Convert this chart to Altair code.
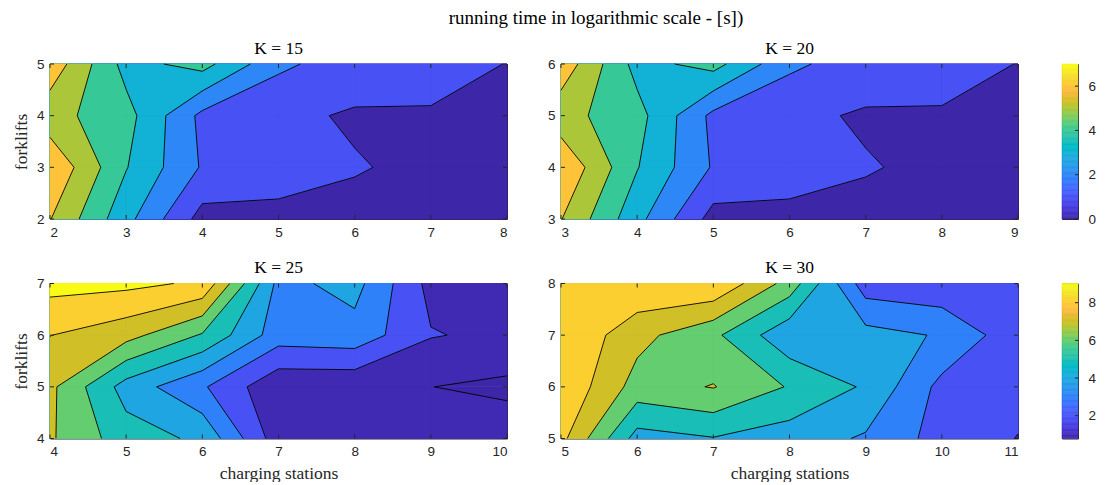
import altair as alt
import pandas as pd

# ---------------------------------------------------------------------------
# log running time [s] on the (forklifts x charging stations) grid, one per K
# rows = forklifts (bottom to top), columns = charging stations (left to right)
# ---------------------------------------------------------------------------
STATIONS_K15 = [2, 3, 4, 5, 6, 7, 8]
FORKLIFTS_K15 = [2, 3, 4, 5]
LOGTIME_K15 = [
    [6.04, 3.32, 0.62, 0.81, 0.74, 0.35, 0.00],
    [6.90, 4.05, 1.90, 1.30, 1.06, 0.81, 0.40],
    [5.35, 4.37, 1.74, 1.20, 0.90, 0.88, 0.60],
    [6.67, 3.64, 4.37, 2.20, 1.50, 1.50, 0.97],
]

STATIONS_K20 = [3, 4, 5, 6, 7, 8, 9]
FORKLIFTS_K20 = [3, 4, 5, 6]
LOGTIME_K20 = [
    [6.04, 3.32, 0.62, 0.81, 0.74, 0.35, 0.00],
    [6.90, 4.05, 1.90, 1.30, 1.06, 0.81, 0.40],
    [5.35, 4.37, 1.74, 1.20, 0.90, 0.88, 0.60],
    [6.67, 3.64, 4.37, 2.20, 1.50, 1.50, 0.97],
]

STATIONS_K25 = [4, 5, 6, 7, 8, 9, 10]
FORKLIFTS_K25 = [4, 5, 6, 7]
LOGTIME_K25 = [
    [7.13, 5.46, 4.81, 1.44, 1.30, 1.35, 1.57],
    [7.24, 4.58, 3.13, 1.21, 1.19, 1.01, 0.79],
    [8.02, 7.36, 5.90, 3.48, 3.63, 2.06, 1.78],
    [9.35, 9.25, 8.85, 3.70, 4.35, 1.68, 1.50],
]

STATIONS_K30 = [5, 6, 7, 8, 9, 10, 11]
FORKLIFTS_K30 = [5, 6, 7, 8]
LOGTIME_K30 = [
    [8.30, 4.60, 4.95, 4.50, 3.88, 2.60, 1.97],
    [8.88, 6.60, 7.05, 5.92, 4.87, 2.70, 2.30],
    [8.97, 7.32, 6.22, 4.25, 4.37, 3.91, 2.34],
    [9.00, 8.87, 8.92, 6.60, 2.45, 2.22, 2.10],
]

# contour levels and colour limits of each row of panels
LEVELS_TOP = [0, 1, 2, 3, 4, 5, 6, 7]
LEVELS_BOTTOM = [1, 2, 3, 4, 5, 6, 7, 8, 9]
CLIM_TOP = (0.0, 7.0)
CLIM_BOTTOM = (0.79, 9.02)
CBAR_TICKS_TOP = [0, 2, 4, 6]
CBAR_TICKS_BOTTOM = [2, 4, 6, 8]

# parula colormap (64 entries)
PARULA = [
    (0.2422, 0.1504, 0.6603), (0.2504, 0.1650, 0.7076), (0.2578, 0.1818, 0.7511),
    (0.2647, 0.1978, 0.7952), (0.2706, 0.2147, 0.8364), (0.2751, 0.2342, 0.8710),
    (0.2783, 0.2559, 0.8991), (0.2803, 0.2782, 0.9221), (0.2813, 0.3006, 0.9414),
    (0.2810, 0.3228, 0.9579), (0.2795, 0.3447, 0.9717), (0.2760, 0.3667, 0.9829),
    (0.2699, 0.3892, 0.9906), (0.2602, 0.4123, 0.9952), (0.2440, 0.4358, 0.9988),
    (0.2206, 0.4603, 0.9973), (0.1963, 0.4847, 0.9892), (0.1834, 0.5074, 0.9798),
    (0.1786, 0.5289, 0.9682), (0.1764, 0.5499, 0.9520), (0.1687, 0.5703, 0.9359),
    (0.1540, 0.5902, 0.9218), (0.1460, 0.6091, 0.9079), (0.1380, 0.6276, 0.8973),
    (0.1248, 0.6459, 0.8883), (0.1113, 0.6635, 0.8763), (0.0952, 0.6798, 0.8598),
    (0.0689, 0.6948, 0.8394), (0.0297, 0.7082, 0.8163), (0.0036, 0.7203, 0.7917),
    (0.0067, 0.7312, 0.7660), (0.0433, 0.7411, 0.7394), (0.0964, 0.7500, 0.7120),
    (0.1408, 0.7584, 0.6842), (0.1717, 0.7670, 0.6554), (0.1938, 0.7758, 0.6251),
    (0.2161, 0.7843, 0.5923), (0.2470, 0.7918, 0.5567), (0.2906, 0.7973, 0.5188),
    (0.3406, 0.8008, 0.4789), (0.3909, 0.8029, 0.4354), (0.4456, 0.8024, 0.3909),
    (0.5044, 0.7993, 0.3480), (0.5616, 0.7942, 0.3045), (0.6174, 0.7876, 0.2612),
    (0.6720, 0.7793, 0.2227), (0.7242, 0.7698, 0.1910), (0.7738, 0.7598, 0.1646),
    (0.8203, 0.7498, 0.1535), (0.8634, 0.7406, 0.1596), (0.9035, 0.7330, 0.1774),
    (0.9393, 0.7288, 0.2100), (0.9728, 0.7298, 0.2394), (0.9956, 0.7434, 0.2371),
    (0.9970, 0.7659, 0.2199), (0.9952, 0.7893, 0.2028), (0.9892, 0.8136, 0.1885),
    (0.9786, 0.8386, 0.1766), (0.9676, 0.8639, 0.1643), (0.9610, 0.8890, 0.1537),
    (0.9597, 0.9135, 0.1423), (0.9628, 0.9373, 0.1265), (0.9691, 0.9606, 0.1064),
    (0.9769, 0.9839, 0.0805),
]


def to_hex(rgb):
    return "#" + "".join("%02x" % int(round(255 * c)) for c in rgb)


def cmap_color(value, clim):
    """Colour of a value, picked from the indexed colormap."""
    frac = (value - clim[0]) / (clim[1] - clim[0])
    idx = min(max(int(frac * len(PARULA)), 0), len(PARULA) - 1)
    return to_hex(PARULA[idx])


def cmap_smooth(value, clim):
    frac = (value - clim[0]) / (clim[1] - clim[0]) * (len(PARULA) - 1)
    i = min(max(int(frac), 0), len(PARULA) - 2)
    t = min(max(frac - i, 0.0), 1.0)
    a, b = PARULA[i], PARULA[i + 1]
    return to_hex(tuple(a[c] + t * (b[c] - a[c]) for c in range(3)))


def crossing(p, q, level):
    t = (level - p[2]) / (q[2] - p[2])
    return (p[0] + t * (q[0] - p[0]), p[1] + t * (q[1] - p[1]), level)


def clip(poly, level):
    """Part of a cell polygon where the field is >= level (vertices tagged)."""
    out = []
    n = len(poly)
    for i in range(n):
        p, q = poly[i], poly[(i + 1) % n]
        ip, iq = p[2] >= level, q[2] >= level
        if ip:
            out.append((p, "in"))
        if ip != iq:
            out.append((crossing(p, q, level), "exit" if ip else "entry"))
    return out


def superlevel(quad, level):
    """Region >= level inside one grid cell; saddles decided by the cell mean."""
    inside = [c[2] >= level for c in quad]
    saddle = inside in ([True, False, True, False], [False, True, False, True])
    if saddle and sum(c[2] for c in quad) / 4 < level:
        parts = []
        for i in range(4):
            if inside[i]:
                c, nxt, prv = quad[i], quad[(i + 1) % 4], quad[(i - 1) % 4]
                parts.append([(c, "in"), (crossing(c, nxt, level), "exit"),
                              (crossing(prv, c, level), "entry")])
        return parts
    part = clip(quad, level)
    return [part] if len(part) >= 3 else []


def area(poly):
    s = 0.0
    for i in range(len(poly)):
        x0, y0 = poly[i][0], poly[i][1]
        x1, y1 = poly[(i + 1) % len(poly)][0], poly[(i + 1) % len(poly)][1]
        s += x0 * y1 - x1 * y0
    return abs(s) / 2


def contour_geometry(xs, ys, grid, levels, clim):
    """Per level: filled superlevel polygons; plus the iso-line segments."""
    layers, segs = [], []
    cells = []
    for j in range(len(ys) - 1):
        for i in range(len(xs) - 1):
            cells.append([
                (xs[i], ys[j], grid[j][i]),
                (xs[i + 1], ys[j], grid[j][i + 1]),
                (xs[i + 1], ys[j + 1], grid[j + 1][i + 1]),
                (xs[i], ys[j + 1], grid[j + 1][i]),
            ])
    # lowest band: whole domain
    rows, pid = [], 0
    for quad in cells:
        for k, p in enumerate(quad + [quad[0]]):
            rows.append({"poly": pid, "k": k, "x": p[0], "y": p[1]})
        pid += 1
    layers.append((pd.DataFrame(rows), cmap_color(clim[0], clim)))
    for lev in levels:
        rows = []
        for quad in cells:
            for part in superlevel(quad, lev):
                pts = [p for p, _ in part]
                for idx, (p, tag) in enumerate(part):
                    if tag == "exit":
                        q, tag2 = part[(idx + 1) % len(part)]
                        if tag2 == "entry":
                            segs.append({"x": p[0], "y": p[1], "x2": q[0], "y2": q[1]})
                if area(pts) < 1e-9:
                    continue
                for k, p in enumerate(pts + [pts[0]]):
                    rows.append({"poly": pid, "k": k, "x": p[0], "y": p[1]})
                pid += 1
        if rows:
            layers.append((pd.DataFrame(rows), cmap_color(lev, clim)))
    return layers, pd.DataFrame(segs)


W, H = 457, 155
TICK = 4
AXIS_COLOR = "#262626"
SANS = "Liberation Sans"
SERIF = "Liberation Serif"


def panel(title, xs, ys, grid, levels, clim, x_title, y_title):
    layers, segs = contour_geometry(xs, ys, grid, levels, clim)
    xsc = alt.Scale(domain=[xs[0], xs[-1]], nice=False, zero=False)
    ysc = alt.Scale(domain=[ys[0], ys[-1]], nice=False, zero=False)
    xaxis = alt.Axis(values=xs, format="d", ticks=False, domain=False, grid=False,
                     labelPadding=6, titlePadding=6, title=x_title)
    yaxis = alt.Axis(values=ys, format="d", ticks=False, domain=False, grid=False,
                     labelPadding=6, titlePadding=6, title=y_title)

    charts = []
    for n, (df, color) in enumerate(layers):
        enc = dict(detail="poly:N", order="k:Q")
        if n == 0:
            enc["x"] = alt.X("x:Q", scale=xsc, axis=xaxis)
            enc["y"] = alt.Y("y:Q", scale=ysc, axis=yaxis)
        else:
            enc["x"] = alt.X("x:Q")
            enc["y"] = alt.Y("y:Q")
        charts.append(
            alt.Chart(df).mark_line(fill=color, stroke=color, strokeWidth=0.7,
                                    strokeJoin="round").encode(**enc)
        )
    lines = alt.Chart(segs).mark_rule(color="black", strokeWidth=0.9).encode(
        x="x:Q", y="y:Q", x2="x2:Q", y2="y2:Q"
    )
    xt = pd.DataFrame({"x": xs})
    yt = pd.DataFrame({"y": ys})
    tick_b = alt.Chart(xt).mark_rule(color=AXIS_COLOR).encode(
        x="x:Q", y=alt.value(H), y2=alt.value(H - TICK))
    tick_t = alt.Chart(xt).mark_rule(color=AXIS_COLOR).encode(
        x="x:Q", y=alt.value(0), y2=alt.value(TICK))
    tick_l = alt.Chart(yt).mark_rule(color=AXIS_COLOR).encode(
        y="y:Q", x=alt.value(0), x2=alt.value(TICK))
    tick_r = alt.Chart(yt).mark_rule(color=AXIS_COLOR).encode(
        y="y:Q", x=alt.value(W), x2=alt.value(W - TICK))
    return alt.layer(*charts, lines, tick_b, tick_t, tick_l, tick_r).properties(
        width=W, height=H,
        title=alt.TitleParams(title, font=SERIF, fontSize=17.5, fontWeight="normal",
                              color="black", offset=0),
    )


def colorbar(clim, ticks):
    n = 128
    step = (clim[1] - clim[0]) / n
    strips = pd.DataFrame({
        "v": [clim[0] + i * step for i in range(n)],
        "v2": [clim[0] + (i + 1) * step for i in range(n)],
    })
    strips["color"] = [cmap_smooth(v + step / 2, clim) for v in strips["v"]]
    ysc = alt.Scale(domain=list(clim), nice=False, zero=False)
    bar = alt.Chart(strips).mark_rect(strokeWidth=0.6).encode(
        y=alt.Y("v:Q", scale=ysc, axis=alt.Axis(orient="right", values=ticks, format="d",
                                                 ticks=False, domain=False, grid=False,
                                                 labelPadding=10, title=None)),
        y2="v2:Q",
        fill=alt.Fill("color:N", scale=None),
        stroke=alt.Stroke("color:N", scale=None),
    )
    tk = alt.Chart(pd.DataFrame({"v": ticks})).mark_rule(color=AXIS_COLOR).encode(
        y="v:Q", x=alt.value(16), x2=alt.value(16 - 3))
    return alt.layer(bar, tk).properties(width=16, height=H)


p15 = panel("K = 15", STATIONS_K15, FORKLIFTS_K15, LOGTIME_K15, LEVELS_TOP, CLIM_TOP,
            None, "forklifts")
p20 = panel("K = 20", STATIONS_K20, FORKLIFTS_K20, LOGTIME_K20, LEVELS_TOP, CLIM_TOP,
            None, None)
p25 = panel("K = 25", STATIONS_K25, FORKLIFTS_K25, LOGTIME_K25, LEVELS_BOTTOM, CLIM_BOTTOM,
            "charging stations", "forklifts")
p30 = panel("K = 30", STATIONS_K30, FORKLIFTS_K30, LOGTIME_K30, LEVELS_BOTTOM, CLIM_BOTTOM,
            "charging stations", None)

row_top = alt.hconcat(alt.hconcat(p15, p20, spacing=38),
                      colorbar(CLIM_TOP, CBAR_TICKS_TOP), spacing=42)
row_bottom = alt.hconcat(alt.hconcat(p25, p30, spacing=38),
                         colorbar(CLIM_BOTTOM, CBAR_TICKS_BOTTOM), spacing=42)

chart = alt.vconcat(row_top, row_bottom, spacing=19.5).properties(
    title=alt.TitleParams("running time in logarithmic scale - [s])", font=SERIF,
                          fontSize=19, fontWeight="normal", color="black",
                          anchor="middle", frame="bounds", dx=42, offset=11),
    padding={"left": 11, "top": 9, "right": 5, "bottom": 0},
).configure(
    background="white"
).configure_view(
    stroke=AXIS_COLOR, strokeWidth=1
).configure_axis(
    labelFont=SANS, labelFontSize=13.5, labelColor=AXIS_COLOR,
    titleFont=SERIF, titleFontSize=17.5, titleFontWeight="normal", titleColor=AXIS_COLOR,
)

chart.save("out.html", embed_options={"renderer": "svg", "actions": False})
